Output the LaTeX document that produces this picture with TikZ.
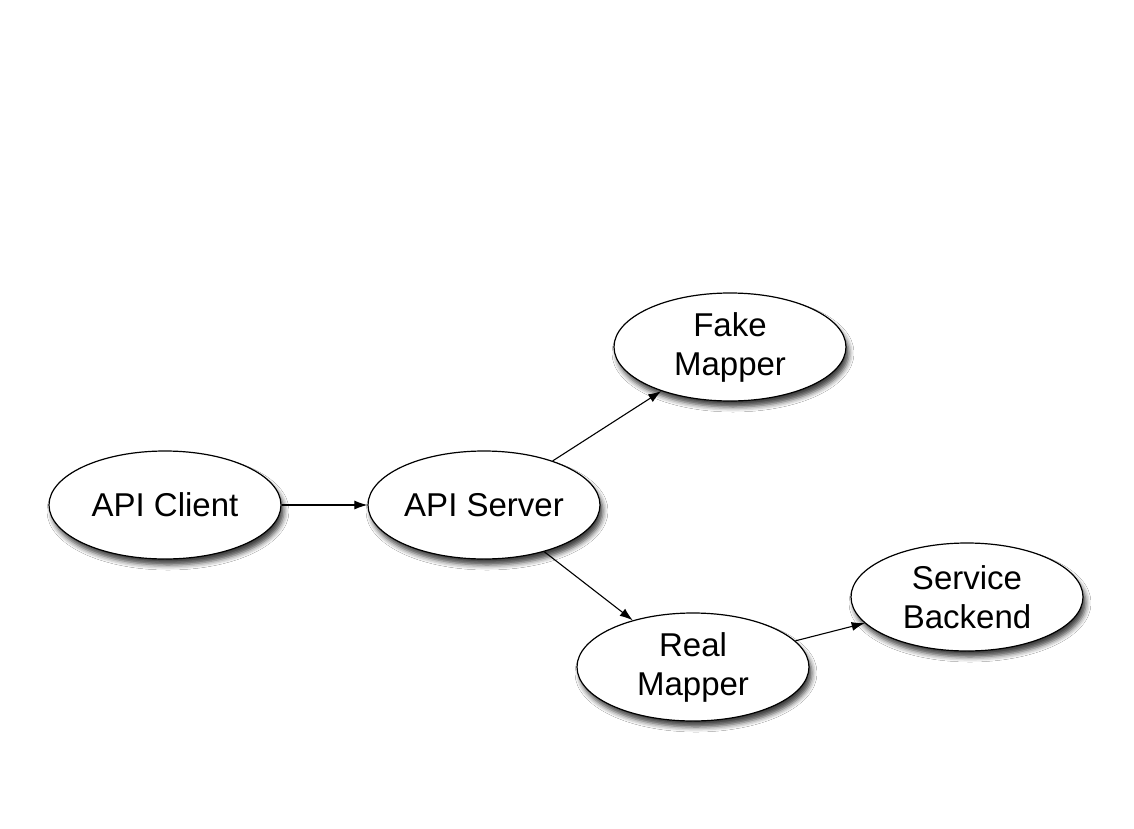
\documentclass[tikz,border=0pt]{standalone}
\usepackage{fontspec}
\setmainfont{Liberation Sans}
\usetikzlibrary{shapes.geometric,arrows.meta,shadows.blur}
\tikzset{
  ell/.style={ellipse, draw=black, line width=1.2pt, fill=white,
    minimum width=232pt, minimum height=108pt, inner sep=0pt, align=center,
    font=\fontsize{33}{39}\selectfont,
    blur shadow={shadow xshift=3pt, shadow yshift=-6pt, shadow blur radius=5pt, shadow opacity=75}},
  conn/.style={line width=1.1pt, -{Latex[length=13pt,width=9pt]}}
}
\begin{document}
\begin{tikzpicture}[x=1pt,y=-1pt]
\useasboundingbox (0,0) rectangle (1134,829);
\fill[white] (0,0) rectangle (1134,829);
\node[ell] (client) at (165,505) {API Client};
\node[ell] (server) at (484,505) {API Server};
\node[ell] (fake) at (730,347) {Fake\\Mapper};
\node[ell] (real) at (693,667) {Real\\Mapper};
\node[ell] (svc) at (967,597) {Service\\Backend};
\draw[conn] (client) -- (server);
\draw[conn] (server) -- (fake);
\draw[conn] (server) -- (real);
\draw[conn] (real) -- (svc);
\end{tikzpicture}
\end{document}
